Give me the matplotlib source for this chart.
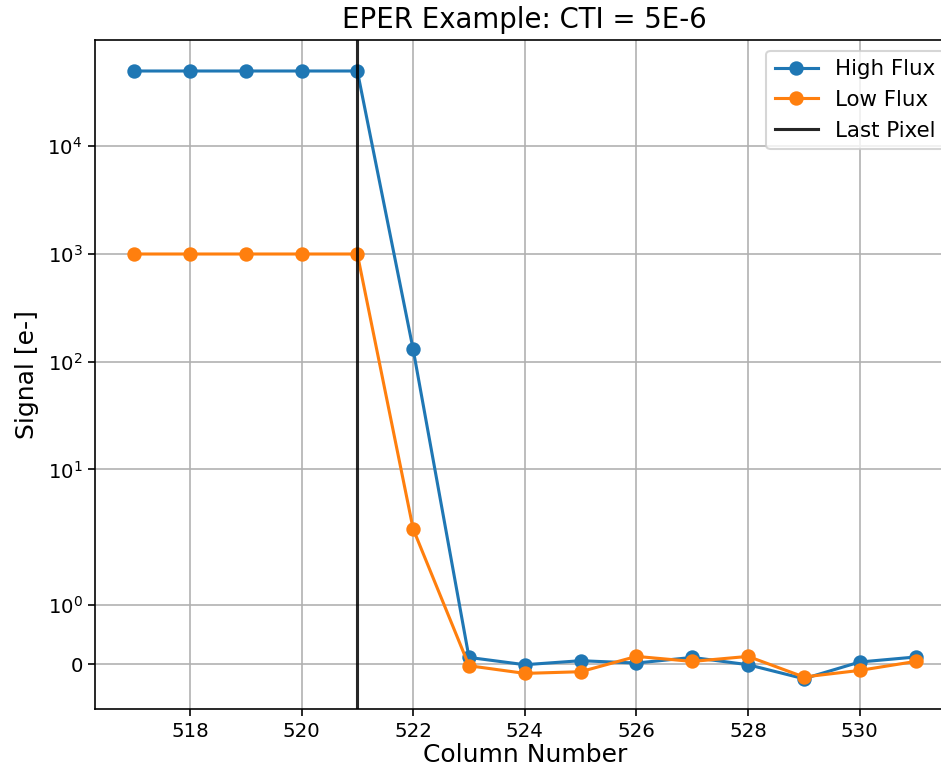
import matplotlib
matplotlib.use("Agg")
import matplotlib.pyplot as plt

# Column numbers and measured signal (electrons)
columns = [517, 518, 519, 520, 521, 522, 523, 524, 525, 526, 527, 528, 529, 530, 531]
high_flux = [50000, 50000, 50000, 50000, 50000, 130, 0.117, -0.005, 0.062, 0.023,
             0.117, -0.005, -0.239, 0.04, 0.124]
low_flux = [1000, 1000, 1000, 1000, 1000, 2.8, -0.022, -0.15, -0.122, 0.134,
            0.05, 0.134, -0.21, -0.1, 0.05]
last_pixel = 521

DPI = 148
fig = plt.figure(figsize=(941 / DPI, 768 / DPI), dpi=DPI)
ax = fig.add_axes([95 / 941, (768 - 709.3) / 768, (954.6 - 95) / 941, (709.3 - 40) / 768])

ax.set_yscale("symlog")
ax.plot(columns, high_flux, "o-", label="High Flux")
ax.plot(columns, low_flux, "o-", label="Low Flux")
ax.axvline(last_pixel, color="k", alpha=0.85, label="Last Pixel")
ax.set_xlim(516.3, 531.7)
ax.set_ylim(-0.75, 9.7e4)
ax.grid(True)
ax.tick_params(labelsize=9.6, pad=2.5)
ax.set_title("EPER Example: CTI = 5E-6", fontsize=13.4)
ax.set_xlabel("Column Number", fontsize=12.2, labelpad=1)
ax.set_ylabel("Signal [e-]", fontsize=12.2)
ax.legend(loc="upper right", fontsize=10.4)

fig.savefig("out.png", dpi=DPI)
